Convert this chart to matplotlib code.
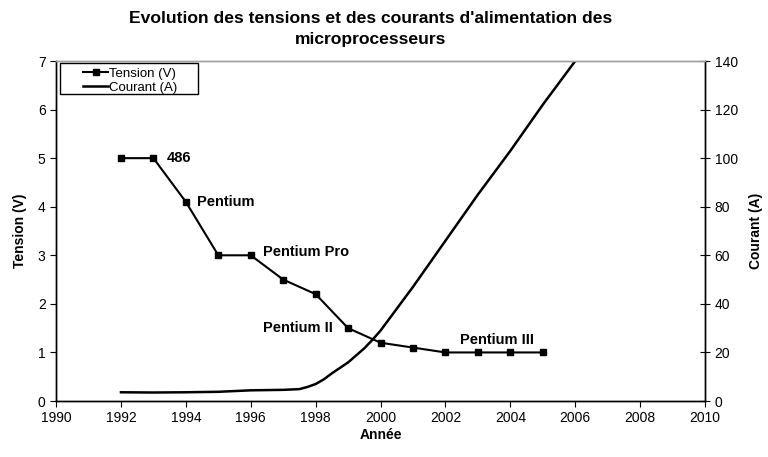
import matplotlib
matplotlib.use("Agg")
import matplotlib.pyplot as plt
from matplotlib.patches import Rectangle

plt.rcParams['font.family'] = ['Liberation Sans', 'DejaVu Sans']

years_v = [1992, 1993, 1994, 1995, 1996, 1997, 1998, 1999, 2000, 2001, 2002, 2003, 2004, 2005]
tension = [5, 5, 4.1, 3, 3, 2.5, 2.2, 1.5, 1.2, 1.1, 1.0, 1.0, 1.0, 1.0]

years_c = [1992, 1993, 1994, 1995, 1996, 1997, 1997.5, 1997.75, 1998, 1998.25, 1998.5, 1999,
           1999.5, 1999.75, 2000, 2000.25, 2000.5, 2001, 2002, 2003, 2004, 2005, 2006]
courant = [3.6, 3.5, 3.6, 3.8, 4.4, 4.6, 4.9, 5.8, 7.0, 8.9, 11.4, 15.9,
           21.7, 25.2, 29.0, 33.5, 38, 47, 66, 85, 103, 122, 140]

labels = ["486", "Pentium", "Pentium Pro", "Pentium II", "Pentium III"]
label_x = [1993.4, 1994.35, 1996.37, 1996.37, 2002.45]
label_y = [5.0, 4.1, 3.07, 1.5, 1.26]

fig = plt.figure(figsize=(7.68, 4.57), dpi=100)
ax = fig.add_axes([0.073, 0.1225, 0.845, 0.744])
ax2 = ax.twinx()

l1, = ax.plot(years_v, tension, color='black', marker='s', markersize=4.5, linewidth=1.5, label='Tension (V)')
l2, = ax2.plot(years_c, courant, color='black', linewidth=1.8, label='Courant (A)',
               solid_joinstyle='round')

for t, x, y in zip(labels, label_x, label_y):
    ax.text(x, y, t, fontsize=10.5, fontweight='bold', ha='left', va='center')

ax.set_xlim(1990, 2010)
ax.set_ylim(0, 7)
ax2.set_ylim(0, 140)
ax.set_xticks(range(1990, 2011, 2))
ax.set_yticks(range(0, 8))
ax2.set_yticks(range(0, 141, 20))

ax.tick_params(axis='both', labelsize=10, direction='out', length=4)
ax2.tick_params(axis='y', labelsize=10, direction='inout', length=7)

for a in (ax, ax2):
    a.spines['top'].set_color('#a0a0a0')
    a.spines['top'].set_linewidth(1)
    for s in ('left', 'right', 'bottom'):
        a.spines[s].set_color('black')
        a.spines[s].set_linewidth(1)

ax.set_xlabel('Année', fontsize=10, fontweight='bold', labelpad=2)
ax.set_ylabel('Tension (V)', fontsize=10, fontweight='bold', labelpad=8)
ax2.set_ylabel('Courant (A)', fontsize=10, fontweight='bold', labelpad=8)

fig.text(0.482, 0.975, "Evolution des tensions et des courants d'alimentation des\nmicroprocesseurs",
         fontsize=12.6, fontweight='bold', ha='center', va='top', linespacing=1.5)

# legend frame drawn separately to mimic wide side padding
ax2.add_patch(Rectangle((0.006, 0.903), 0.213, 0.091, transform=ax2.transAxes,
                        facecolor='white', edgecolor='black', linewidth=1, zorder=5, clip_on=False))
leg = ax2.legend(handles=[l1, l2], loc='upper left', bbox_to_anchor=(0.0416, 0.98),
                 fontsize=9.5, frameon=False, borderpad=0.0,
                 labelspacing=0.12, handlelength=1.9, handletextpad=0.08, borderaxespad=0.0)
leg.set_zorder(6)

fig.savefig('out.png', dpi=100)
